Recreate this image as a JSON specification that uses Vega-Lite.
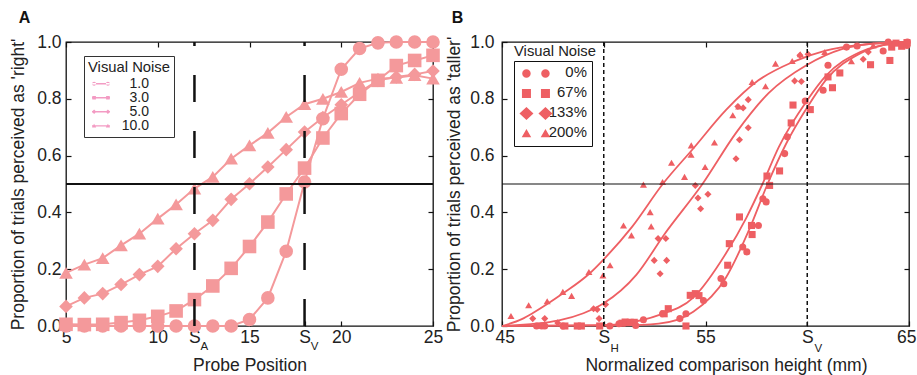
{
  "$schema": "https://vega.github.io/schema/vega-lite/v6.json",
  "padding": {"left": 9, "top": 9, "right": 0, "bottom": 0},
  "resolve": {"scale": {"shape": "independent"}, "legend": {"shape": "independent"}},
  "config": {
    "font": "Liberation Sans",
    "view": {"stroke": "#111", "strokeWidth": 1.3},
    "axis": {"grid": false, "domain": false, "minExtent": 0, "labelFlush": false, "labelFont": "Liberation Sans", "labelFontSize": 17.5, "labelColor": "#222", "titleFont": "Liberation Sans", "titleFontSize": 17.5, "titleFontWeight": "normal", "titleColor": "#222", "tickColor": "#111", "tickSize": -5, "tickWidth": 1.2, "labelPadding": 9},
    "title": {"fontSize": 16, "fontWeight": "bold", "anchor": "start", "frame": "bounds", "color": "#111"},
    "concat": {"spacing": 1}
  },
  "datasets": {
    "seriesA": [
      {"noise":"1.0","x":5,"y":0},{"noise":"1.0","x":6,"y":0},{"noise":"1.0","x":7,"y":0},{"noise":"1.0","x":8,"y":0},{"noise":"1.0","x":9,"y":0},{"noise":"1.0","x":10,"y":0},{"noise":"1.0","x":11,"y":0},{"noise":"1.0","x":12,"y":0},{"noise":"1.0","x":13,"y":0},{"noise":"1.0","x":14,"y":0},{"noise":"1.0","x":15,"y":0.023},{"noise":"1.0","x":16,"y":0.099},{"noise":"1.0","x":17,"y":0.263},{"noise":"1.0","x":18,"y":0.507},{"noise":"1.0","x":19,"y":0.73},{"noise":"1.0","x":20,"y":0.904},{"noise":"1.0","x":21,"y":0.977},{"noise":"1.0","x":22,"y":0.997},{"noise":"1.0","x":23,"y":1},{"noise":"1.0","x":24,"y":1},{"noise":"1.0","x":25,"y":1},
      {"noise":"3.0","x":5,"y":0.006},{"noise":"3.0","x":6,"y":0.005},{"noise":"3.0","x":7,"y":0.006},{"noise":"3.0","x":8,"y":0.012},{"noise":"3.0","x":9,"y":0.02},{"noise":"3.0","x":10,"y":0.034},{"noise":"3.0","x":11,"y":0.053},{"noise":"3.0","x":12,"y":0.093},{"noise":"3.0","x":13,"y":0.141},{"noise":"3.0","x":14,"y":0.203},{"noise":"3.0","x":15,"y":0.28},{"noise":"3.0","x":16,"y":0.366},{"noise":"3.0","x":17,"y":0.465},{"noise":"3.0","x":18,"y":0.556},{"noise":"3.0","x":19,"y":0.662},{"noise":"3.0","x":20,"y":0.748},{"noise":"3.0","x":21,"y":0.816},{"noise":"3.0","x":22,"y":0.865},{"noise":"3.0","x":23,"y":0.917},{"noise":"3.0","x":24,"y":0.935},{"noise":"3.0","x":25,"y":0.953},
      {"noise":"5.0","x":5,"y":0.069},{"noise":"5.0","x":6,"y":0.099},{"noise":"5.0","x":7,"y":0.114},{"noise":"5.0","x":8,"y":0.146},{"noise":"5.0","x":9,"y":0.181},{"noise":"5.0","x":10,"y":0.21},{"noise":"5.0","x":11,"y":0.272},{"noise":"5.0","x":12,"y":0.325},{"noise":"5.0","x":13,"y":0.372},{"noise":"5.0","x":14,"y":0.446},{"noise":"5.0","x":15,"y":0.501},{"noise":"5.0","x":16,"y":0.56},{"noise":"5.0","x":17,"y":0.621},{"noise":"5.0","x":18,"y":0.683},{"noise":"5.0","x":19,"y":0.734},{"noise":"5.0","x":20,"y":0.779},{"noise":"5.0","x":21,"y":0.824},{"noise":"5.0","x":22,"y":0.865},{"noise":"5.0","x":23,"y":0.877},{"noise":"5.0","x":24,"y":0.886},{"noise":"5.0","x":25,"y":0.898},
      {"noise":"10.0","x":5,"y":0.187},{"noise":"10.0","x":6,"y":0.216},{"noise":"10.0","x":7,"y":0.239},{"noise":"10.0","x":8,"y":0.284},{"noise":"10.0","x":9,"y":0.325},{"noise":"10.0","x":10,"y":0.378},{"noise":"10.0","x":11,"y":0.428},{"noise":"10.0","x":12,"y":0.484},{"noise":"10.0","x":13,"y":0.525},{"noise":"10.0","x":14,"y":0.589},{"noise":"10.0","x":15,"y":0.636},{"noise":"10.0","x":16,"y":0.68},{"noise":"10.0","x":17,"y":0.736},{"noise":"10.0","x":18,"y":0.781},{"noise":"10.0","x":19,"y":0.8},{"noise":"10.0","x":20,"y":0.824},{"noise":"10.0","x":21,"y":0.856},{"noise":"10.0","x":22,"y":0.871},{"noise":"10.0","x":23,"y":0.874},{"noise":"10.0","x":24,"y":0.883},{"noise":"10.0","x":25,"y":0.871}
    ],
    "curveB": [
      {"noise":"200%","x":45,"y":0},{"noise":"200%","x":46,"y":0.025},{"noise":"200%","x":46.5,"y":0.045},{"noise":"200%","x":48,"y":0.115},{"noise":"200%","x":49.3,"y":0.185},{"noise":"200%","x":50,"y":0.235},{"noise":"200%","x":51.4,"y":0.35},{"noise":"200%","x":52.9,"y":0.5},{"noise":"200%","x":54.4,"y":0.625},{"noise":"200%","x":56,"y":0.76},{"noise":"200%","x":57.6,"y":0.865},{"noise":"200%","x":59.3,"y":0.93},{"noise":"200%","x":60.9,"y":0.97},{"noise":"200%","x":62.6,"y":0.99},{"noise":"200%","x":65,"y":1},
      {"noise":"133%","x":45,"y":0},{"noise":"133%","x":47.8,"y":0.02},{"noise":"133%","x":49,"y":0.045},{"noise":"133%","x":50,"y":0.08},{"noise":"133%","x":51.6,"y":0.18},{"noise":"133%","x":53,"y":0.325},{"noise":"133%","x":54.85,"y":0.5},{"noise":"133%","x":56.5,"y":0.68},{"noise":"133%","x":58.1,"y":0.82},{"noise":"133%","x":60,"y":0.92},{"noise":"133%","x":61.7,"y":0.975},{"noise":"133%","x":63.4,"y":0.995},{"noise":"133%","x":65,"y":1},
      {"noise":"67%","x":45,"y":0},{"noise":"67%","x":50,"y":0.003},{"noise":"67%","x":51.1,"y":0.01},{"noise":"67%","x":52.7,"y":0.038},{"noise":"67%","x":54.4,"y":0.1},{"noise":"67%","x":56,"y":0.255},{"noise":"67%","x":57,"y":0.38},{"noise":"67%","x":57.8,"y":0.5},{"noise":"67%","x":58.6,"y":0.63},{"noise":"67%","x":60,"y":0.795},{"noise":"67%","x":60.9,"y":0.88},{"noise":"67%","x":62.6,"y":0.965},{"noise":"67%","x":64.2,"y":0.995},{"noise":"67%","x":65,"y":1},
      {"noise":"0%","x":45,"y":0},{"noise":"0%","x":51,"y":0.002},{"noise":"0%","x":52.7,"y":0.008},{"noise":"0%","x":54.4,"y":0.05},{"noise":"0%","x":56,"y":0.17},{"noise":"0%","x":57.15,"y":0.34},{"noise":"0%","x":58.05,"y":0.5},{"noise":"0%","x":58.95,"y":0.64},{"noise":"0%","x":60,"y":0.77},{"noise":"0%","x":60.9,"y":0.865},{"noise":"0%","x":62.6,"y":0.96},{"noise":"0%","x":64.2,"y":0.995},{"noise":"0%","x":65,"y":1}
    ],
    "pointsB": [
      {"noise":"200%","x":45.44,"y":0.035},{"noise":"200%","x":46.31,"y":0.073},{"noise":"200%","x":47.22,"y":0.087},{"noise":"200%","x":47.99,"y":0.12},{"noise":"200%","x":48.42,"y":0.106},{"noise":"200%","x":49.27,"y":0.19},{"noise":"200%","x":49.96,"y":0.178},{"noise":"200%","x":50.31,"y":0.214},{"noise":"200%","x":50.97,"y":0.354},{"noise":"200%","x":51.36,"y":0.319},{"noise":"200%","x":51.95,"y":0.498},{"noise":"200%","x":52.28,"y":0.401},{"noise":"200%","x":52.33,"y":0.351},{"noise":"200%","x":52.89,"y":0.507},{"noise":"200%","x":53.33,"y":0.575},{"noise":"200%","x":53.97,"y":0.525},{"noise":"200%","x":54.29,"y":0.603},{"noise":"200%","x":54.3,"y":0.636},{"noise":"200%","x":54.98,"y":0.56},{"noise":"200%","x":55.44,"y":0.646},{"noise":"200%","x":56.34,"y":0.742},{"noise":"200%","x":56.63,"y":0.773},{"noise":"200%","x":57.29,"y":0.859},{"noise":"200%","x":57.95,"y":0.844},{"noise":"200%","x":58.44,"y":0.924},{"noise":"200%","x":59.26,"y":0.933},{"noise":"200%","x":59.66,"y":0.957},{"noise":"200%","x":60.86,"y":0.965},{"noise":"200%","x":62.17,"y":0.932},{"noise":"200%","x":63.24,"y":0.988},
      {"noise":"133%","x":46.51,"y":0.026},{"noise":"133%","x":47.1,"y":0.026},{"noise":"133%","x":47.74,"y":0.011},{"noise":"133%","x":49.5,"y":0.061},{"noise":"133%","x":49.68,"y":0.058},{"noise":"133%","x":49.77,"y":0.026},{"noise":"133%","x":50.09,"y":0.076},{"noise":"133%","x":52.48,"y":0.231},{"noise":"133%","x":52.67,"y":0.308},{"noise":"133%","x":52.77,"y":0.184},{"noise":"133%","x":53.05,"y":0.308},{"noise":"133%","x":53.09,"y":0.231},{"noise":"133%","x":54.5,"y":0.495},{"noise":"133%","x":54.63,"y":0.451},{"noise":"133%","x":54.76,"y":0.413},{"noise":"133%","x":55.12,"y":0.464},{"noise":"133%","x":56.5,"y":0.589},{"noise":"133%","x":56.59,"y":0.773},{"noise":"133%","x":56.67,"y":0.656},{"noise":"133%","x":56.85,"y":0.768},{"noise":"133%","x":57.1,"y":0.698},{"noise":"133%","x":57.1,"y":0.797},{"noise":"133%","x":59.38,"y":0.863},{"noise":"133%","x":59.64,"y":0.953},{"noise":"133%","x":59.71,"y":0.861},{"noise":"133%","x":60.04,"y":0.957},{"noise":"133%","x":62.75,"y":0.939},{"noise":"133%","x":63.0,"y":0.965},
      {"noise":"67%","x":48.09,"y":0},{"noise":"67%","x":48.7,"y":0},{"noise":"67%","x":48.9,"y":0},{"noise":"67%","x":49.8,"y":0},{"noise":"67%","x":50.9,"y":0.01},{"noise":"67%","x":51.05,"y":0.014},{"noise":"67%","x":51.3,"y":0.013},{"noise":"67%","x":51.5,"y":0.013},{"noise":"67%","x":52.97,"y":0.043},{"noise":"67%","x":53.17,"y":0.061},{"noise":"67%","x":54.04,"y":0},{"noise":"67%","x":54.25,"y":0.108},{"noise":"67%","x":54.5,"y":0.114},{"noise":"67%","x":54.68,"y":0.107},{"noise":"67%","x":56.09,"y":0.214},{"noise":"67%","x":56.17,"y":0.29},{"noise":"67%","x":56.67,"y":0.384},{"noise":"67%","x":57.26,"y":0.354},{"noise":"67%","x":57.29,"y":0.322},{"noise":"67%","x":58.02,"y":0.528},{"noise":"67%","x":58.15,"y":0.495},{"noise":"67%","x":58.64,"y":0.546},{"noise":"67%","x":59.21,"y":0.715},{"noise":"67%","x":59.3,"y":0.778},{"noise":"67%","x":60.15,"y":0.762},{"noise":"67%","x":61.02,"y":0.877},{"noise":"67%","x":61.24,"y":0.839},{"noise":"67%","x":61.6,"y":0.891},{"noise":"67%","x":63.11,"y":0.92},{"noise":"67%","x":64.06,"y":0.935},{"noise":"67%","x":64.15,"y":0.982},{"noise":"67%","x":64.36,"y":0.996},{"noise":"67%","x":64.64,"y":0.985},{"noise":"67%","x":64.9,"y":0.998},
      {"noise":"0%","x":46.7,"y":0},{"noise":"0%","x":46.95,"y":0},{"noise":"0%","x":47.1,"y":0},{"noise":"0%","x":48.0,"y":0},{"noise":"0%","x":50.3,"y":0},{"noise":"0%","x":50.75,"y":0.008},{"noise":"0%","x":51.57,"y":0.002},{"noise":"0%","x":51.95,"y":0.022},{"noise":"0%","x":52.89,"y":0.043},{"noise":"0%","x":53.74,"y":0.026},{"noise":"0%","x":54.04,"y":0.043},{"noise":"0%","x":54.9,"y":0.09},{"noise":"0%","x":55.76,"y":0.167},{"noise":"0%","x":55.9,"y":0.149},{"noise":"0%","x":56.83,"y":0.278},{"noise":"0%","x":57.03,"y":0.261},{"noise":"0%","x":57.6,"y":0.354},{"noise":"0%","x":57.82,"y":0.448},{"noise":"0%","x":57.98,"y":0.437},{"noise":"0%","x":58.89,"y":0.607},{"noise":"0%","x":59.02,"y":0.666},{"noise":"0%","x":59.9,"y":0.792},{"noise":"0%","x":60.78,"y":0.83},{"noise":"0%","x":61.02,"y":0.918},{"noise":"0%","x":61.93,"y":0.982},{"noise":"0%","x":62.45,"y":0.986},{"noise":"0%","x":63.73,"y":0.968},{"noise":"0%","x":63.98,"y":1},{"noise":"0%","x":64.9,"y":0.988},{"noise":"0%","x":64.92,"y":1}
    ]
  },
  "hconcat": [
    {
      "width": 367, "height": 284,
      "title": {"text": "A", "offset": 7, "dx": 9},
      "resolve": {"axis": {"x": "independent", "y": "independent"}, "scale": {"shape": "independent"}, "legend": {"shape": "independent"}},
      "layer": [
        {
          "data": {"name": "seriesA"},
          "mark": {"type": "line", "color": "#f4999b", "strokeWidth": 2},
          "encoding": {
            "x": {"field": "x", "type": "quantitative", "scale": {"domain": [5, 25], "nice": false},
              "axis": {"orient": "bottom", "values": [5, 10, 12, 15, 18, 20, 25], "labelExpr": "datum.value == 12 || datum.value == 18 ? 'S' : datum.label", "labelPadding": 7, "title": "Probe Position", "titlePadding": 11}},
            "y": {"field": "y", "type": "quantitative", "scale": {"domain": [0, 1], "nice": false},
              "axis": {"orient": "left", "values": [0, 0.2, 0.4, 0.6, 0.8, 1], "format": ".1f", "labelPadding": 10, "title": "Proportion of trials perceived as 'right'", "titlePadding": 9}},
            "detail": {"field": "noise"}
          }
        },
        {
          "data": {"name": "seriesA"},
          "mark": {"type": "point", "filled": true, "color": "#f4999b", "opacity": 1, "size": 185},
          "encoding": {
            "x": {"field": "x", "type": "quantitative", "axis": null},
            "y": {"field": "y", "type": "quantitative", "axis": null},
            "shape": {"field": "noise", "type": "nominal", "legend": null,
              "scale": {"domain": ["1.0", "3.0", "5.0", "10.0"], "range": ["circle", "square", "diamond", "triangle-up"]}}
          }
        },
        {
          "data": {"name": "seriesA"},
          "transform": [{"filter": "false"}],
          "mark": {"type": "point", "filled": true, "color": "#f39bc3", "opacity": 1},
          "encoding": {
            "x": {"field": "x", "type": "quantitative", "axis": null},
            "y": {"field": "y", "type": "quantitative", "axis": null},
            "shape": {"field": "noise", "type": "nominal",
              "scale": {"domain": ["1.0", "3.0", "5.0", "10.0"], "range": [
                "M-1,-0.25H5V0.25H-1Z M-0.97,0A0.67,0.67 0 1,0 0.37,0A0.67,0.67 0 1,0 -0.97,0Z M3.63,0A0.67,0.67 0 1,0 4.97,0A0.67,0.67 0 1,0 3.63,0Z",
                "M-1,-0.25H5V0.25H-1Z M-0.9,-0.6H0.3V0.6H-0.9Z M3.7,-0.6H4.9V0.6H3.7Z",
                "M-1,-0.25H5V0.25H-1Z M-0.3,-0.75L0.45,0L-0.3,0.75L-1.05,0Z M4.3,-0.75L5.05,0L4.3,0.75L3.55,0Z",
                "M-1,-0.2H5V0.2H-1Z M-0.3,-0.7L0.4,0.55H-1Z M4.3,-0.7L5,0.55H3.6Z"]},
              "legend": {"orient": "none", "legendX": 18, "legendY": 14, "title": "Visual Noise", "titleFontSize": 14.8, "titleFontWeight": "normal", "titleColor": "#222", "titlePadding": 2,
                "labelFontSize": 14, "labelColor": "#222", "labelAlign": "right", "labelOffset": 47,
                "symbolSize": 36, "symbolFillColor": "#f39bc3", "symbolStrokeWidth": 0, "symbolOpacity": 1,
                "strokeColor": "#333", "fillColor": "white", "padding": 4, "rowPadding": 0}
            }
          }
        },
        {
          "data": {"values": [{"pos": 12}, {"pos": 18}]},
          "mark": {"type": "rule", "color": "#111", "strokeWidth": 2.5, "strokeDash": [27, 29]},
          "encoding": {
            "x": {"field": "pos", "type": "quantitative", "axis": {"orient": "top", "values": [5, 10, 15, 20, 25], "labels": false, "title": null}},
            "y": {"datum": 0, "type": "quantitative", "axis": null},
            "y2": {"datum": 1}
          }
        },
        {
          "data": {"values": [{"level": 0.5}]},
          "mark": {"type": "rule", "color": "#111", "strokeWidth": 2},
          "encoding": {
            "y": {"field": "level", "type": "quantitative", "axis": {"orient": "right", "values": [0.2, 0.4, 0.6, 0.8], "labels": false, "title": null}}
          }
        },
        {
          "data": {"values": [{"pos": 12, "sub": "A"}, {"pos": 18, "sub": "V"}]},
          "mark": {"type": "text", "fontSize": 11.5, "color": "#222", "dx": 10, "dy": 23.5, "baseline": "alphabetic", "align": "center"},
          "encoding": {
            "x": {"field": "pos", "type": "quantitative", "axis": null},
            "y": {"datum": 0, "type": "quantitative", "axis": null},
            "text": {"field": "sub"}
          }
        }
      ]
    },
    {
      "width": 407, "height": 284,
      "title": {"text": "B", "offset": 7, "dx": 6},
      "resolve": {"axis": {"x": "independent", "y": "independent"}, "scale": {"shape": "independent"}, "legend": {"shape": "independent"}},
      "layer": [
        {
          "data": {"name": "curveB"},
          "mark": {"type": "line", "color": "#ee5f63", "strokeWidth": 1.8, "interpolate": "monotone"},
          "encoding": {
            "x": {"field": "x", "type": "quantitative", "scale": {"domain": [45, 65], "nice": false},
              "axis": {"orient": "bottom", "values": [45, 50, 55, 60, 65], "labelExpr": "datum.value == 50 || datum.value == 60 ? 'S' : datum.label", "labelFlush": true, "labelFlushOffset": 7, "labelPadding": 7, "title": "Normalized comparison height (mm)", "titlePadding": 11, "titleX": 224}},
            "y": {"field": "y", "type": "quantitative", "scale": {"domain": [0, 1], "nice": false},
              "axis": {"orient": "left", "values": [0, 0.2, 0.4, 0.6, 0.8, 1], "format": ".1f", "labelPadding": 13, "title": "Proportion of trials perceived as 'taller'", "titlePadding": 6}},
            "detail": {"field": "noise"}
          }
        },
        {
          "data": {"name": "pointsB"},
          "mark": {"type": "point", "filled": true, "color": "#ee5f63", "opacity": 1, "size": 50},
          "encoding": {
            "x": {"field": "x", "type": "quantitative", "axis": null},
            "y": {"field": "y", "type": "quantitative", "axis": null},
            "shape": {"field": "noise", "type": "nominal", "legend": null,
              "scale": {"domain": ["0%", "67%", "133%", "200%"], "range": ["circle", "square", "diamond", "triangle-up"]}}
          }
        },
        {
          "data": {"name": "pointsB"},
          "transform": [{"filter": "false"}],
          "mark": {"type": "point", "filled": true, "color": "#ee5f63", "opacity": 1},
          "encoding": {
            "x": {"field": "x", "type": "quantitative", "axis": null},
            "y": {"field": "y", "type": "quantitative", "axis": null},
            "shape": {"field": "noise", "type": "nominal",
              "scale": {"domain": ["0%", "67%", "133%", "200%"], "range": [
                "M-0.85,0A0.85,0.85 0 1,0 0.85,0A0.85,0.85 0 1,0 -0.85,0Z M2.95,0A0.85,0.85 0 1,0 4.65,0A0.85,0.85 0 1,0 2.95,0Z",
                "M-0.9,-0.9H0.9V0.9H-0.9Z M2.9,-0.9H4.7V0.9H2.9Z",
                "M0,-1.3L1.4,0L0,1.3L-1.4,0Z M3.8,-1.3L5.2,0L3.8,1.3L2.4,0Z",
                "M0,-0.9L0.95,0.75H-0.95Z M3.8,-0.9L4.75,0.75H2.85Z"]},
              "legend": {"orient": "none", "legendX": 12, "legendY": 19, "title": null,
                "labelFontSize": 14.9, "labelColor": "#222", "labelAlign": "right", "labelOffset": 53,
                "symbolSize": 100, "symbolFillColor": "#ee5f63", "symbolStrokeWidth": 0, "symbolOpacity": 1,
                "strokeColor": "#111", "fillColor": "white", "padding": 5, "rowPadding": 4}
            }
          }
        },
        {
          "data": {"values": [{"pos": 50}, {"pos": 60}]},
          "mark": {"type": "rule", "color": "#111", "strokeWidth": 1.5, "strokeDash": [4, 3]},
          "encoding": {
            "x": {"field": "pos", "type": "quantitative", "axis": {"orient": "top", "values": [45, 50, 55, 60, 65], "labels": false, "title": null}},
            "y": {"datum": 0, "type": "quantitative", "axis": null},
            "y2": {"datum": 1}
          }
        },
        {
          "data": {"values": [{"level": 0.5}]},
          "mark": {"type": "rule", "color": "#111", "strokeWidth": 1.2},
          "encoding": {
            "y": {"field": "level", "type": "quantitative", "axis": {"orient": "right", "values": [0.2, 0.4, 0.6, 0.8], "labels": false, "title": null}}
          }
        },
        {
          "data": {"values": [{"pos": 50, "sub": "H"}, {"pos": 60, "sub": "V"}]},
          "mark": {"type": "text", "fontSize": 11.5, "color": "#222", "dx": 11, "dy": 26, "baseline": "alphabetic", "align": "center"},
          "encoding": {
            "x": {"field": "pos", "type": "quantitative", "axis": null},
            "y": {"datum": 0, "type": "quantitative", "axis": null},
            "text": {"field": "sub"}
          }
        },
        {
          "data": {"values": [{"label": "Visual Noise"}]},
          "mark": {"type": "text", "fontSize": 14.8, "color": "#222", "dx": 12, "dy": 14, "baseline": "alphabetic", "align": "left"},
          "encoding": {
            "x": {"datum": 45, "type": "quantitative", "axis": null},
            "y": {"datum": 1, "type": "quantitative", "axis": null},
            "text": {"field": "label"}
          }
        }
      ]
    }
  ]
}
